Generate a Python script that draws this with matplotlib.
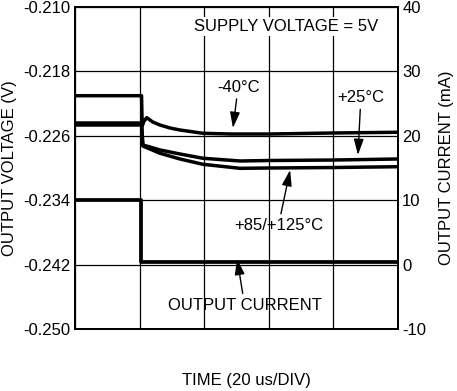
import matplotlib
matplotlib.use("Agg")
import matplotlib.pyplot as plt

plt.rcParams['font.family'] = ['Liberation Sans', 'DejaVu Sans']
plt.rcParams['axes.unicode_minus'] = False

# time in us (20 us/div, 5 divisions)
t_m40 = [0, 20.6, 20.8, 21.4, 22.2, 24.1, 26.3, 29.4, 32.5, 39.6, 48.6, 60, 80, 100]
v_m40 = [-0.22102, -0.22102, -0.22478, -0.22416, -0.22375, -0.22429, -0.22466,
         -0.22503, -0.22528, -0.22569, -0.22578, -0.22578, -0.22565, -0.22556]

t_p25 = [0, 20.6, 21.0, 23.2, 26.3, 32.5, 39.6, 51.1, 60, 80, 100]
v_p25 = [-0.22441, -0.22441, -0.22714, -0.22739, -0.22776, -0.22826, -0.22879,
         -0.22913, -0.22907, -0.22901, -0.22888]

t_p85 = [0, 20.6, 21.0, 23.2, 26.3, 32.5, 39.6, 51.1, 60, 80, 100]
v_p85 = [-0.22466, -0.22466, -0.22727, -0.22764, -0.22817, -0.22888, -0.22954,
         -0.23004, -0.23000, -0.22994, -0.22984]

t_cur = [0, 20.5, 20.5, 100]
i_cur = [10.0, 10.0, 0.45, 0.45]

v_ticks = [-0.250, -0.242, -0.234, -0.226, -0.218, -0.210]
i_ticks = [-10, 0, 10, 20, 30, 40]

fig = plt.figure(figsize=(4.57, 3.91), dpi=100)
ax = fig.add_axes([75/457, 1-329/391, 323/457, 322/391])
ax2 = ax.twinx()

ax.set_xlim(0, 100)
ax.set_ylim(-0.250, -0.210)
ax2.set_ylim(-10, 40)
ax.set_xticks([0, 20, 40, 60, 80, 100])
ax.set_yticks(v_ticks)
ax.set_yticklabels([f"{v:.3f}" for v in v_ticks])
ax2.set_yticks(i_ticks)
ax.set_xticklabels([])
ax.grid(True, color='black', linewidth=0.9)
ax.tick_params(axis='both', length=0, labelsize=12, pad=3)
ax2.tick_params(axis='y', length=0, labelsize=12, pad=3)
for a in (ax, ax2):
    for s in a.spines.values():
        s.set_linewidth(1.3)
        s.set_color('black')

lw = 2.5
ax.plot(t_m40, v_m40, color='black', linewidth=lw)
ax.plot(t_p25, v_p25, color='black', linewidth=lw)
ax.plot(t_p85, v_p85, color='black', linewidth=lw)
ax2.plot(t_cur, i_cur, color='black', linewidth=2.7)

fs = 12
ax2.text(93.8, 36.9, "SUPPLY VOLTAGE = 5V", ha='right', va='center', fontsize=fs,
         bbox=dict(facecolor='white', edgecolor='none', pad=1.5))
arrowprops = dict(arrowstyle='-|>,head_length=0.8,head_width=0.25', color='black',
                  lw=1.0, mutation_scale=12, shrinkA=1, shrinkB=0)
ax.annotate("-40°C", xy=(48.9, -0.22503), xytext=(50.5, -0.2209),
            ha='center', va='bottom', fontsize=fs, arrowprops=arrowprops)
ax.annotate("+25°C", xy=(87.6, -0.22838), xytext=(88.5, -0.2222),
            ha='center', va='bottom', fontsize=fs, arrowprops=arrowprops)
ax.annotate("+85/+125°C", xy=(66.6, -0.23025), xytext=(63, -0.2362),
            ha='center', va='top', fontsize=fs, arrowprops=arrowprops)
ax2.annotate("OUTPUT CURRENT", xy=(50.2, 0.9), xytext=(52.5, -6.3),
             ha='center', va='center', fontsize=fs, arrowprops=arrowprops)

fig.text(10/457, 1-168/391, "OUTPUT VOLTAGE (V)", rotation=90,
         ha='center', va='center', fontsize=fs)
fig.text(447/457, 1-168/391, "OUTPUT CURRENT (mA)", rotation=90,
         ha='center', va='center', fontsize=fs)
fig.text(246/457, 1-380/391, "TIME (20 us/DIV)", ha='center', va='center',
         fontsize=fs)

fig.savefig("out.png", dpi=100)
